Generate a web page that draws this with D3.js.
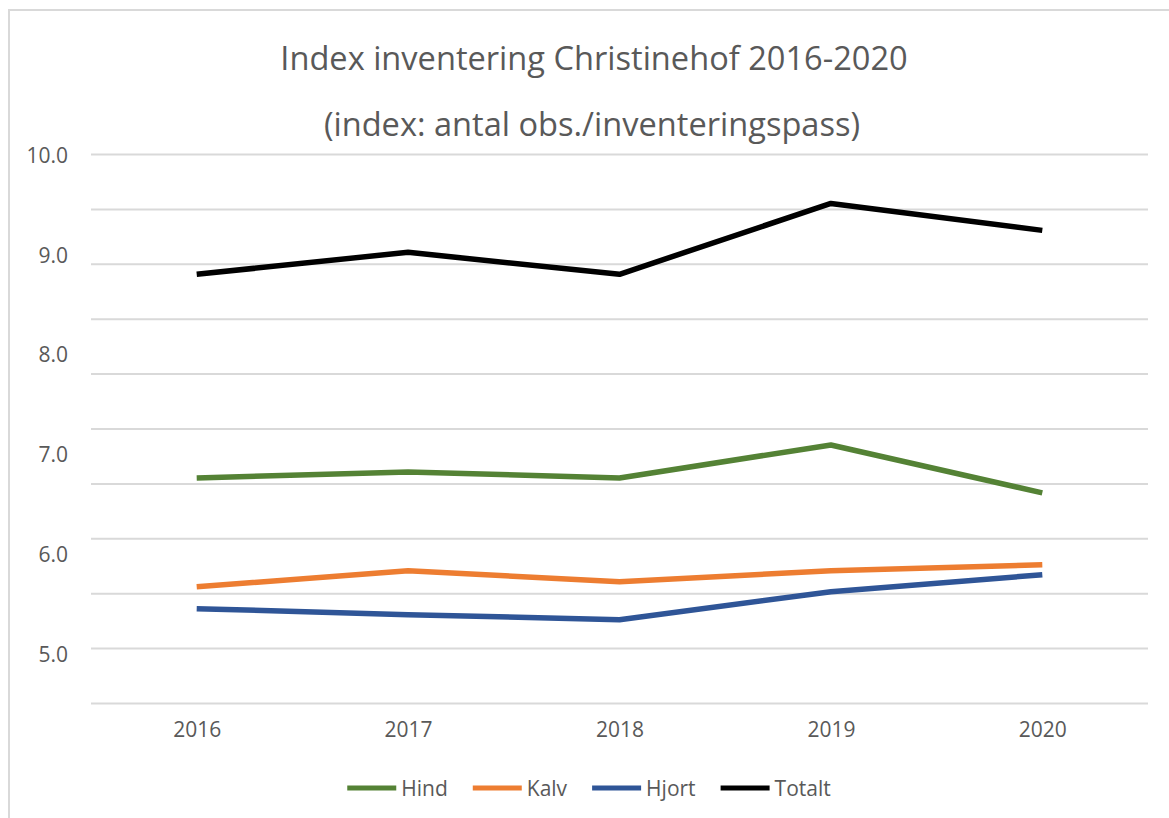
<!DOCTYPE html>
<html>
<head>
<meta charset="utf-8">
<script src="https://cdn.jsdelivr.net/npm/d3@7"></script>
<style>
  html, body { margin: 0; padding: 0; background: #fff; }
  svg { display: block; }
  text { font-family: "Open Sans", "Liberation Sans", sans-serif; fill: #595959; }
</style>
</head>
<body>
<svg id="chart" width="1169" height="818"></svg>
<script>
// ---- data ----
const years = ["2016", "2017", "2018", "2019", "2020"];
const hind   = [6.76, 6.82, 6.76, 7.09, 6.61];
const kalv   = [5.67, 5.83, 5.72, 5.83, 5.89];
const hjort  = [5.45, 5.39, 5.34, 5.62, 5.79];
const totalt = [8.80, 9.02, 8.80, 9.51, 9.24];
const seriesNames = ["Hind", "Kalv", "Hjort", "Totalt"];
const yTickLabels = [10, 9, 8, 7, 6, 5];
const titleText = "Index inventering Christinehof 2016-2020";
const subtitleText = "(index: antal obs./inventeringspass)";

const seriesValues = [hind, kalv, hjort, totalt];
const colors = ["#548235", "#ED7D31", "#2F5597", "#000000"];

// ---- layout ----
const svg = d3.select("#chart");
const plotLeft = 91, plotRight = 1148, plotTop = 154.5, plotBottom = 703.5;

// outer chart border
svg.append("rect")
  .attr("x", 9).attr("y", 10).attr("width", 1175).attr("height", 830)
  .attr("fill", "none").attr("stroke", "#d9d9d9").attr("stroke-width", 2);

const x = d3.scalePoint().domain(years).range([plotLeft, plotRight]).padding(0.5);
const y = d3.scaleLinear().domain([4.5, 10]).range([plotBottom, plotTop]);

// gridlines (10 equal divisions of the plot height)
const gridIdx = d3.range(0, 11);
const gridY = d3.scaleLinear().domain([0, 10]).range([plotTop, plotBottom]);
svg.append("g").selectAll("line").data(gridIdx).join("line")
  .attr("x1", plotLeft).attr("x2", plotRight)
  .attr("y1", d => gridY(d)).attr("y2", d => gridY(d))
  .attr("stroke", "#d9d9d9").attr("stroke-width", 2);

// y axis labels
const yAxis = d3.axisLeft(y).tickValues(yTickLabels).tickFormat(d3.format(".1f")).tickSize(0).tickPadding(0);
const gy = svg.append("g").attr("transform", "translate(68,1)").call(yAxis);
gy.select(".domain").remove();
gy.selectAll("text").attr("font-size", 21).attr("fill", "#595959")
  .style("font-family", '"Open Sans", "Liberation Sans", sans-serif');

// x axis labels
const xAxis = d3.axisBottom(x).tickSize(0).tickPadding(0);
const gx = svg.append("g").attr("transform", "translate(0,722)").call(xAxis);
gx.select(".domain").remove();
gx.selectAll("text").attr("font-size", 21).attr("fill", "#595959").attr("dy", "0.71em")
  .style("font-family", '"Open Sans", "Liberation Sans", sans-serif');

// lines
const line = d3.line().x((d, i) => x(years[i])).y(d => y(d));
svg.append("g").selectAll("path").data(seriesValues).join("path")
  .attr("d", d => line(d))
  .attr("fill", "none")
  .attr("stroke", (d, i) => colors[i])
  .attr("stroke-width", 5.5)
  .attr("stroke-linejoin", "round");

// titles
svg.append("text").attr("x", 594).attr("y", 57).attr("text-anchor", "middle")
  .attr("dominant-baseline", "central").attr("font-size", 32.6).text(titleText);
svg.append("text").attr("x", 592).attr("y", 123).attr("text-anchor", "middle")
  .attr("dominant-baseline", "central").attr("font-size", 32.6).text(subtitleText);

// legend
const legend = svg.append("g");
const lineW = 49, textGap = 5, itemGap = 25, legY = 788;
let cursor = 0;
const items = seriesNames.map((name, i) => {
  const g = legend.append("g");
  g.append("line").attr("x1", 0).attr("x2", lineW).attr("y1", 0).attr("y2", 0)
    .attr("stroke", colors[i]).attr("stroke-width", 5);
  const t = g.append("text").attr("x", lineW + textGap).attr("y", 0)
    .attr("dominant-baseline", "central").attr("font-size", 21).text(name);
  const w = lineW + textGap + t.node().getComputedTextLength();
  g.attr("transform", `translate(${cursor},0)`);
  cursor += w + itemGap;
  return w;
});
const totalW = cursor - itemGap;
legend.attr("transform", `translate(${589 - totalW / 2},${legY})`);
</script>
</body>
</html>
